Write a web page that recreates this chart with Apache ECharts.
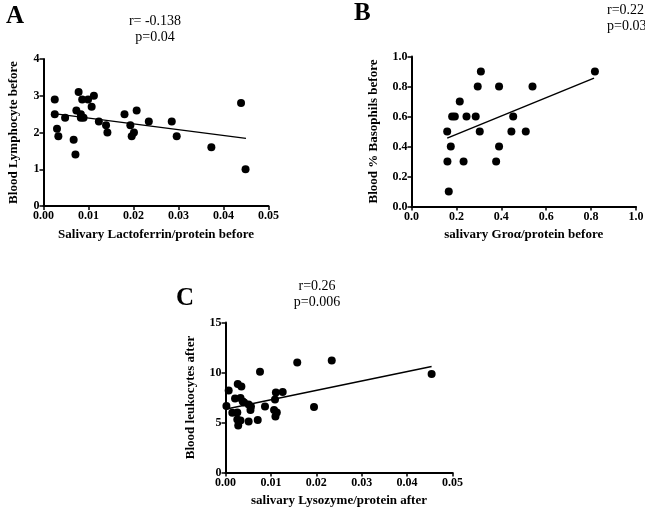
<!DOCTYPE html>
<html style="height: 100%">
<head>
    <meta charset="utf-8">
</head>
<body style="height: 100%; margin: 0; background: #fff">
<div id="container" style="width: 645px; height: 509px"></div>

<script type="text/javascript" src="https://cdn.jsdelivr.net/npm/echarts@6/dist/echarts.min.js"></script>
<script type="text/javascript">
    // panel A: lactoferrin vs lymphocytes
    var aX = [0.0025, 0.0025, 0.003, 0.0033, 0.0048, 0.0067, 0.0071, 0.0073, 0.0078, 0.0083,
              0.0086, 0.0083, 0.0089, 0.0099, 0.0107, 0.0112, 0.0123, 0.0139, 0.0142, 0.018,
              0.0193, 0.0196, 0.0201, 0.0207, 0.0234, 0.0285, 0.0296, 0.0373, 0.0439, 0.0449];
    var aY = [2.9, 2.5, 2.1, 1.9, 2.4, 1.8, 1.4, 2.6, 3.1, 2.5,
              2.9, 2.4, 2.4, 2.9, 2.7, 3.0, 2.3, 2.2, 2.0, 2.5,
              2.2, 1.9, 2.0, 2.6, 2.3, 2.3, 1.9, 1.6, 2.8, 1.0];
    var aFit = [[0.0032, 2.5], [0.045, 1.84]];

    // panel B: Gro-alpha vs basophils
    var bX = [0.309, 0.817, 0.295, 0.39, 0.539, 0.215, 0.181, 0.193, 0.245, 0.286, 0.453,
              0.159, 0.304, 0.445, 0.509, 0.175, 0.39, 0.16, 0.232, 0.377, 0.166];
    var bY = [0.9, 0.9, 0.8, 0.8, 0.8, 0.7, 0.6, 0.6, 0.6, 0.6, 0.6,
              0.5, 0.5, 0.5, 0.5, 0.4, 0.4, 0.3, 0.3, 0.3, 0.1];
    var bFit = [[0.159, 0.456], [0.813, 0.856]];

    // panel C: lysozyme vs leukocytes
    var cX = [0.0002, 0.0007, 0.0015, 0.0021, 0.0026, 0.0027, 0.0026, 0.0028, 0.0033, 0.0035,
              0.0033, 0.0038, 0.0041, 0.0051, 0.0051, 0.0055, 0.0056, 0.0071, 0.0076, 0.0087,
              0.0107, 0.0109, 0.0111, 0.0113, 0.011, 0.0126, 0.0158, 0.0195, 0.0234, 0.0454];
    var cY = [6.65, 8.2, 5.98, 7.4, 6.0, 8.85, 5.3, 4.7, 7.45, 8.6,
              5.2, 7.1, 7.0, 6.8, 5.1, 6.25, 6.6, 5.25, 10.07, 6.6,
              6.25, 7.3, 8.0, 6.0, 5.6, 8.05, 11.0, 6.55, 11.2, 9.85];
    var cFit = [[0.0002, 6.35], [0.0454, 10.6]];

    var xNames = ['Salivary Lactoferrin/protein before', 'salivary Gro\u03b1/protein before', 'salivary Lysozyme/protein after'];
    var yNames = ['Blood Lymphocyte before', 'Blood % Basophils before', 'Blood leukocytes after'];

    var FONT = '"Liberation Serif", "Times New Roman", serif';

    function pairs(xs, ys) {
        return xs.map(function (x, i) { return [x, ys[i]]; });
    }

    function axisBase(extra) {
        var base = {
            axisLine: { show: true, onZero: false, lineStyle: { color: '#000', width: 2 } },
            axisTick: { show: true, inside: false, length: 4, lineStyle: { color: '#000', width: 1.5 } },
            axisLabel: { color: '#000', fontFamily: FONT, fontWeight: 'bold', fontSize: 12, margin: 4, showMinLabel: true, showMaxLabel: true },
            splitLine: { show: false },
            nameLocation: 'middle',
            nameTextStyle: { color: '#000', fontFamily: FONT, fontWeight: 'bold', fontSize: 13 }
        };
        for (var k in extra) {
            if (k === 'axisLabel') {
                for (var j in extra[k]) base.axisLabel[j] = extra[k][j];
            } else {
                base[k] = extra[k];
            }
        }
        return base;
    }

    function fmt(d) {
        return function (v) { return v.toFixed(d); };
    }

    var dom = document.getElementById('container');
    var myChart = echarts.init(dom, null, { renderer: 'canvas' });

    var dot = { color: '#000', opacity: 1 };
    var fitLine = { color: '#000', width: 1.5 };

    var option = {
        backgroundColor: '#fff',
        animation: false,
        grid: [
            { left: 43.5, top: 59, width: 225, height: 147, containLabel: false, outerBoundsMode: 'none' },
            { left: 411.5, top: 56.5, width: 224.5, height: 150, containLabel: false, outerBoundsMode: 'none' },
            { left: 225.5, top: 322.5, width: 227, height: 150, containLabel: false, outerBoundsMode: 'none' }
        ],
        xAxis: [
            axisBase({ gridIndex: 0, type: 'value', min: 0, max: 0.05, interval: 0.01, name: xNames[0], nameGap: 22, axisLabel: { formatter: fmt(2) } }),
            axisBase({ gridIndex: 1, type: 'value', min: 0, max: 1, interval: 0.2, name: xNames[1], nameGap: 22, axisLabel: { formatter: fmt(1) } }),
            axisBase({ gridIndex: 2, type: 'value', min: 0, max: 0.05, interval: 0.01, name: xNames[2], nameGap: 22, axisLabel: { formatter: fmt(2) } })
        ],
        yAxis: [
            axisBase({ gridIndex: 0, type: 'value', min: 0, max: 4, interval: 1, name: yNames[0], nameGap: 23, axisLabel: { formatter: fmt(0) } }),
            axisBase({ gridIndex: 1, type: 'value', min: 0, max: 1, interval: 0.2, name: yNames[1], nameGap: 31, axisLabel: { formatter: fmt(1) } }),
            axisBase({ gridIndex: 2, type: 'value', min: 0, max: 15, interval: 5, name: yNames[2], nameGap: 28, axisLabel: { formatter: fmt(0) } })
        ],
        series: [
            { type: 'scatter', xAxisIndex: 0, yAxisIndex: 0, data: pairs(aX, aY), symbolSize: 8, itemStyle: dot },
            { type: 'line', xAxisIndex: 0, yAxisIndex: 0, data: aFit, showSymbol: false, lineStyle: fitLine },
            { type: 'scatter', xAxisIndex: 1, yAxisIndex: 1, data: pairs(bX, bY), symbolSize: 8, itemStyle: dot },
            { type: 'line', xAxisIndex: 1, yAxisIndex: 1, data: bFit, showSymbol: false, lineStyle: fitLine },
            { type: 'scatter', xAxisIndex: 2, yAxisIndex: 2, data: pairs(cX, cY), symbolSize: 8, itemStyle: dot },
            { type: 'line', xAxisIndex: 2, yAxisIndex: 2, data: cFit, showSymbol: false, lineStyle: fitLine }
        ],
        graphic: [
            { type: 'text', left: 6, top: 4, style: { text: 'A', font: 'bold 25px ' + FONT, fill: '#000' } },
            { type: 'text', left: 354, top: 1, style: { text: 'B', font: 'bold 25px ' + FONT, fill: '#000' } },
            { type: 'text', left: 176, top: 286, style: { text: 'C', font: 'bold 25px ' + FONT, fill: '#000' } },
            { type: 'text', x: 155, y: 13, style: { text: 'r= -0.138\np=0.04', font: '14px ' + FONT, fill: '#000', textAlign: 'center', lineHeight: 16 } },
            { type: 'text', x: 607, y: 2, style: { text: 'r=0.22\np=0.03', font: '14px ' + FONT, fill: '#000', textAlign: 'left', lineHeight: 16 } },
            { type: 'text', x: 317, y: 278, style: { text: 'r=0.26\np=0.006', font: '14px ' + FONT, fill: '#000', textAlign: 'center', lineHeight: 16 } }
        ]
    };

    myChart.setOption(option);
</script>
</body>
</html>
